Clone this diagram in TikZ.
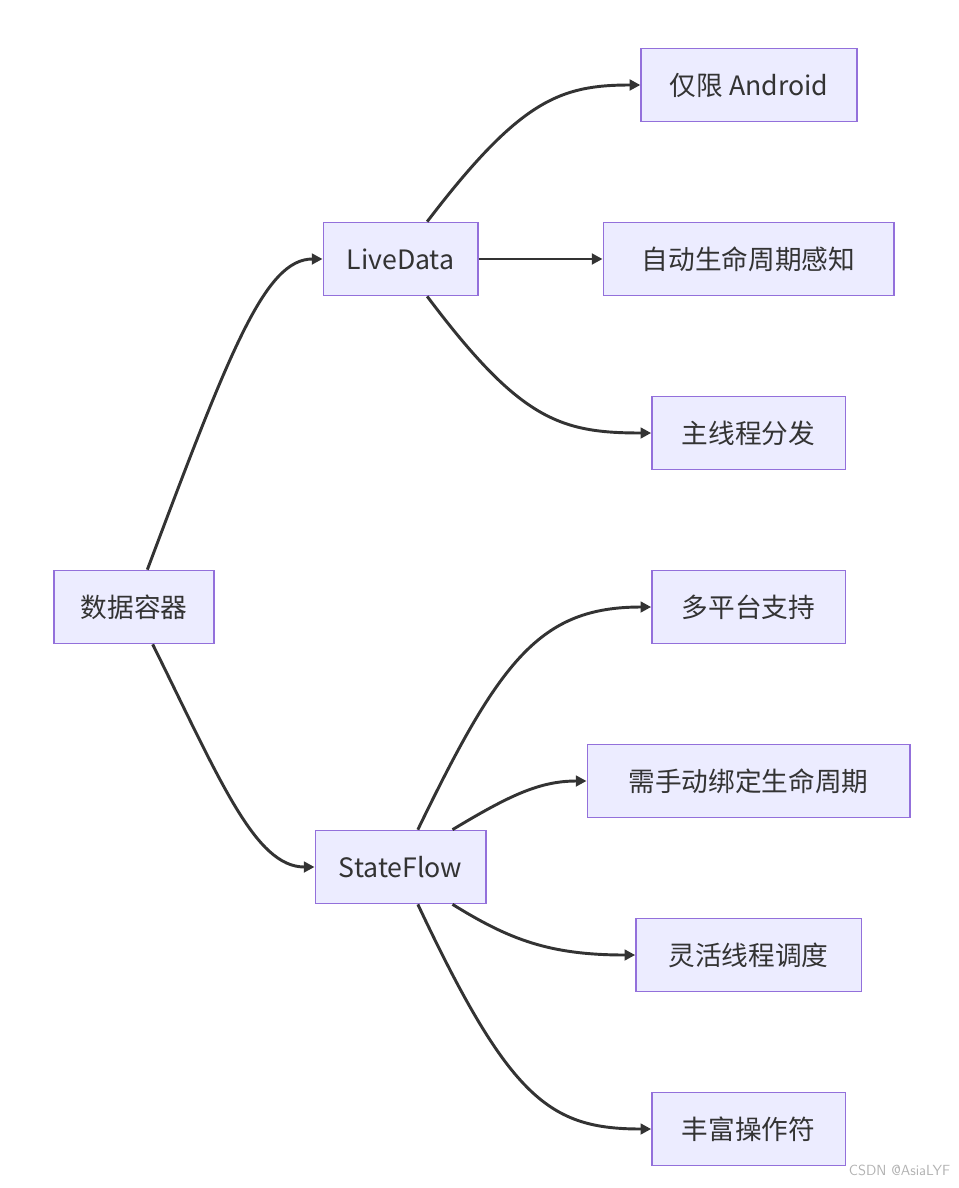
\documentclass[tikz,border=0pt]{standalone}
\usepackage{fontspec}
\setmainfont{Noto Sans CJK SC}
\usetikzlibrary{arrows.meta}
\definecolor{nfill}{HTML}{ECECFF}
\definecolor{nline}{HTML}{9370DB}
\definecolor{ink}{HTML}{333333}
\begin{document}
\begin{tikzpicture}[x=0.75pt,y=-0.75pt,
  box/.style={draw=nline,fill=nfill,line width=1pt,text=ink,font=\fontsize{20}{24}\selectfont,inner sep=0pt,minimum height=55pt},
  arr/.style={draw=ink,line width=2.2pt,-{Triangle[length=8pt,width=8pt]}}]
\useasboundingbox (0,0) rectangle (958,1188);
\node[box,minimum width=120pt] (dc) at (134,607) {数据容器};
\node[box,minimum width=116pt] (ld) at (400.5,259) {LiveData};
\node[box,minimum width=128pt] (sf) at (400.5,867) {StateFlow};
\node[box,minimum width=162pt] (a1) at (749,85) {仅限 Android};
\node[box,minimum width=218pt] (a2) at (748.5,259) {自动生命周期感知};
\node[box,minimum width=145pt] (a3) at (748.5,433) {主线程分发};
\node[box,minimum width=145pt] (b1) at (748.5,607) {多平台支持};
\node[box,minimum width=242pt] (b2) at (748.5,781) {需手动绑定生命周期};
\node[box,minimum width=169pt] (b3) at (748.5,955) {灵活线程调度};
\node[box,minimum width=145pt] (b4) at (748.5,1129) {丰富操作符};
\draw[arr] ([xshift=10pt]dc.north) .. controls (230,350) and (265,259) .. (ld.west);
\draw[arr] ([xshift=14pt]dc.south) .. controls (220,780) and (255,867) .. (sf.west);
\draw[arr] ([xshift=20pt]ld.north) .. controls (520,100) and (560,85) .. (a1.west);
\draw[arr] (ld.east) -- (a2.west);
\draw[arr] ([xshift=20pt]ld.south) .. controls (520,420) and (560,433) .. (a3.west);
\draw[arr] ([xshift=13pt]sf.north) .. controls (500,660) and (540,607) .. (b1.west);
\draw[arr] ([xshift=39pt]sf.north) .. controls (510,795) and (540,781) .. (b2.west);
\draw[arr] ([xshift=39pt]sf.south) .. controls (510,940) and (550,955) .. (b3.west);
\draw[arr] ([xshift=13pt]sf.south) .. controls (510,1100) and (550,1129) .. (b4.west);
\node[text=gray!60,font=\fontsize{11}{13}\selectfont\sffamily,anchor=east] (wm) at (955,1170) {CSDN @AsiaLYF};
\end{tikzpicture}
\end{document}
